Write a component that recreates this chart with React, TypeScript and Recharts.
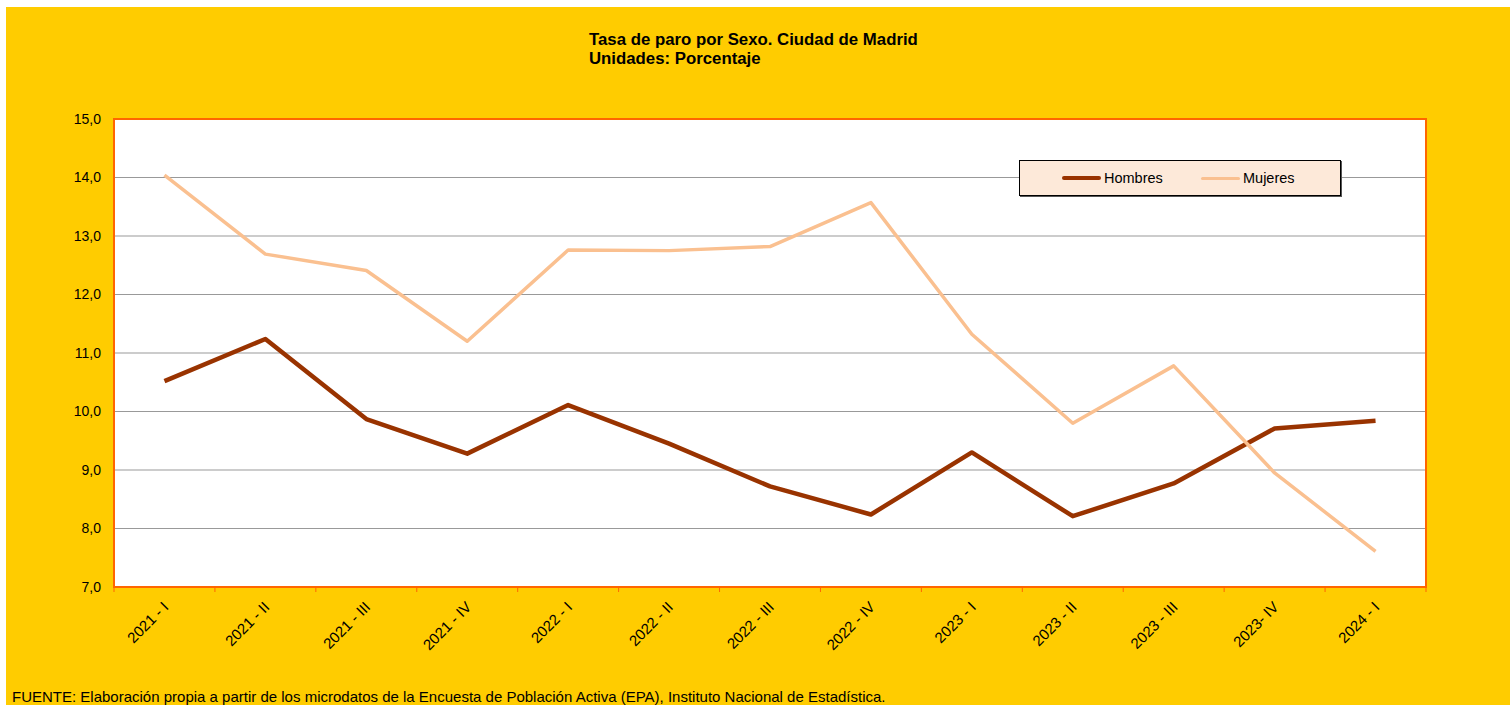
import React from "react";
import {
  LineChart,
  Line,
  XAxis,
  YAxis,
  CartesianGrid,
  Legend,
  ReferenceArea,
} from "recharts";

const categories = [
  "2021 - I",
  "2021 - II",
  "2021 - III",
  "2021 - IV",
  "2022 - I",
  "2022 - II",
  "2022 - III",
  "2022 - IV",
  "2023 - I",
  "2023 - II",
  "2023 - III",
  "2023- IV",
  "2024 - I",
];

const hombres = [10.52, 11.24, 9.87, 9.28, 10.11, 9.45, 8.72, 8.24, 9.3, 8.21, 8.77, 9.71, 9.84];
const mujeres = [14.04, 12.69, 12.41, 11.2, 12.76, 12.75, 12.82, 13.57, 11.32, 9.8, 10.78, 8.95, 7.61];

const yTicks = [7, 8, 9, 10, 11, 12, 13, 14, 15];

const FONT = "Arial, 'Liberation Sans', sans-serif";
const ORANGE = "#FF6600";
const HOMBRES_COLOR = "#993300";
const MUJERES_COLOR = "#FAC090";

const data = categories.map((c, i) => ({
  periodo: c,
  Hombres: hombres[i],
  Mujeres: mujeres[i],
}));

// label rotated like the Excel original, plus the small tick marks that sit
// between categories (band edges)
function RotatedTick(props: any) {
  const { x, y, payload, index, visibleTicksCount } = props;
  const half = payload.offset || 0;
  const axisY = y - 8;
  const isLast = index === visibleTicksCount - 1;
  return (
    <g>
      <line x1={x - half} x2={x - half} y1={axisY} y2={axisY + 5} stroke={ORANGE} strokeWidth={1} />
      {isLast && (
        <line x1={x + half} x2={x + half} y1={axisY} y2={axisY + 5} stroke={ORANGE} strokeWidth={1} />
      )}
      <g transform={`translate(${x + 5},${y + 13})`}>
        <text textAnchor="end" transform="rotate(-45)" fontSize={15} fontFamily={FONT} fill="#000">
          {payload.value}
        </text>
      </g>
    </g>
  );
}

function LegendBox(props: any) {
  const items = props.payload || [];
  return (
    <div
      style={{
        width: 322,
        height: 36,
        border: "1px solid #000",
        background: "#FDE9D9",
        display: "flex",
        alignItems: "center",
        paddingLeft: 42,
        boxSizing: "border-box",
        fontFamily: FONT,
        fontSize: 14.5,
        color: "#000",
        boxShadow: "1px 1px 0 #555",
      }}
    >
      {items.map((it: any) => (
        <div key={it.value} style={{ width: 146, display: "flex", alignItems: "center" }}>
          <span
            style={{
              display: "inline-block",
              width: 39,
              height: it.value === "Hombres" ? 4 : 3,
              borderRadius: 2,
              background: it.color,
              marginRight: 3,
            }}
          />
          <span>{it.value}</span>
        </div>
      ))}
    </div>
  );
}

export default function App() {
  return (
    <div
      style={{
        position: "absolute",
        left: 6,
        top: 7,
        width: 1504,
        height: 698,
        background: "#FFCC00",
        overflow: "hidden",
      }}
    >
      <div
        style={{
          position: "absolute",
          left: 583,
          top: 23,
          fontFamily: FONT,
          fontWeight: "bold",
          fontSize: 16.8,
          lineHeight: "19px",
          color: "#000",
          whiteSpace: "nowrap",
        }}
      >
        <div>Tasa de paro por Sexo. Ciudad de Madrid</div>
        <div>Unidades: Porcentaje</div>
      </div>

      <LineChart
        width={1504}
        height={698}
        data={data}
        margin={{ top: 112, right: 84, left: 0, bottom: 0 }}
        style={{ position: "absolute", left: 0, top: 0 }}
      >
        <CartesianGrid vertical={false} stroke="#999" fill="#fff" />
        <XAxis
          dataKey="periodo"
          scale="band"
          interval={0}
          height={118}
          axisLine={false}
          tickLine={false}
          tick={<RotatedTick />}
        />
        <YAxis
          domain={[7, 15]}
          ticks={yTicks}
          width={108}
          axisLine={false}
          tickLine={false}
          tickMargin={7}
          tickFormatter={(v: number) => v.toFixed(1).replace(".", ",")}
          tick={{ fill: "#000", fontSize: 14, fontFamily: FONT }}
        />
        <ReferenceArea
          x1={categories[0]}
          x2={categories[categories.length - 1]}
          y1={7}
          y2={15}
          fill="none"
          fillOpacity={0}
          stroke={ORANGE}
          strokeWidth={2}
          ifOverflow="visible"
        />
        <Legend
          content={<LegendBox />}
          layout="horizontal"
          verticalAlign="middle"
          align="center"
          wrapperStyle={{ position: "absolute", left: 1013, top: 153, width: "auto" }}
        />
        <Line
          dataKey="Hombres"
          stroke={HOMBRES_COLOR}
          strokeWidth={4.5}
          dot={false}
          activeDot={false}
          isAnimationActive={false}
          strokeLinejoin="round"
        />
        <Line
          dataKey="Mujeres"
          stroke={MUJERES_COLOR}
          strokeWidth={3.5}
          dot={false}
          activeDot={false}
          isAnimationActive={false}
          strokeLinejoin="round"
        />
      </LineChart>

      <div
        style={{
          position: "absolute",
          left: 6,
          top: 681,
          fontFamily: FONT,
          fontSize: 15,
          lineHeight: "17px",
          color: "#000",
          whiteSpace: "nowrap",
        }}
      >
        FUENTE: Elaboración propia a partir de los microdatos de la Encuesta de Población Activa (EPA), Instituto Nacional de Estadística.
      </div>
    </div>
  );
}
